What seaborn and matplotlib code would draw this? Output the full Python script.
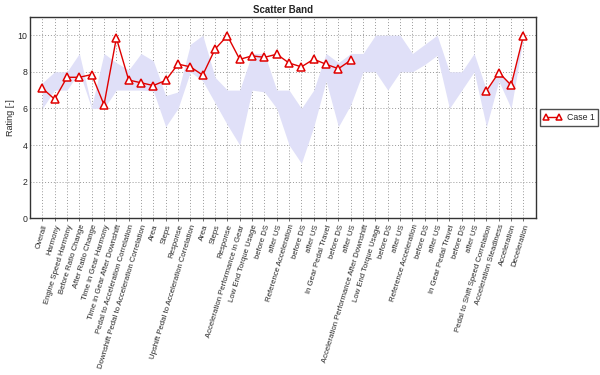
import matplotlib
matplotlib.use('Agg')

import numpy as np
import pandas as pd
import matplotlib.pyplot as plt
from matplotlib.lines import Line2D
import seaborn as sns

# ==============================================================================
# 資料
# ==============================================================================
categories = [
    'Overall', 'Harmony', 'Engine Speed Harmony', 'Before Ratio Change',
    'After Ratio Change', 'Time in Gear Harmony', 'Time in Gear After Downshift',
    'Pedal to Acceleration Correlation', 'Downshift Pedal to Acceleration Correlation',
    'Area', 'Steps', 'Response', 'Upshift Pedal to Acceleration Correlation',
    'Area', 'Steps', 'Response', 'Acceleration Performance in Gear',
    'Low End Torque Usage', 'before DS', 'after US', 'Reference Acceleration',
    'before DS', 'after US', 'In Gear Pedal Travel', 'before DS', 'after US',
    'Acceleration Performance After Downshift', 'Low End Torque Usage',
    'before DS', 'after US', 'Reference Acceleration', 'before DS', 'after US',
    'In Gear Pedal Travel', 'before DS', 'after US',
    'Pedal to Shift Speed Correlation', 'Acceleration Steadiness',
    'Acceleration', 'Deceleration',
]

case1 = [
    7.1, 6.5, 7.7, 7.7, 7.85, 6.2, 9.85, 7.55, 7.4, 7.25,
    7.53, 8.42, 8.27, 7.82, 9.24, 9.97, 8.68, 8.87, 8.79, 8.96,
    8.48, 8.27, 8.69, 8.41, 8.17, 8.63,
    np.nan, np.nan, np.nan, np.nan, np.nan, np.nan, np.nan, np.nan, np.nan, np.nan,
    6.96, 7.96, 7.27, 9.98,
]

band_upper = [
    7.4, 8.0, 8.0, 9.0, 6.1, 9.0, 8.5, 8.1, 9.0, 8.6,
    6.7, 6.9, 9.5, 10.0, 7.7, 7.0, 7.0, 9.0, 9.0, 7.0,
    7.0, 6.0, 7.0, 9.0, 8.5, 9.0, 9.0, 10.0, 10.0, 10.0,
    9.0, 9.5, 10.0, 8.0, 8.0, 9.0, 7.0, 8.0, 7.3, 10.0,
]

band_lower = [
    6.0, 7.0, 7.0, 8.0, 6.0, 6.0, 7.0, 7.0, 7.0, 6.95,
    5.0, 6.0, 8.0, 7.5, 6.3, 5.1, 4.0, 7.0, 6.9, 6.0,
    4.0, 3.0, 5.0, 7.5, 5.0, 6.2, 8.0, 8.0, 7.0, 8.0,
    8.0, 8.4, 8.9, 6.0, 7.0, 8.0, 5.0, 7.5, 6.0, 9.9,
]

# ==============================================================================
# 整理資料
# ==============================================================================
pos = np.arange(len(categories))
df = pd.DataFrame({'pos': pos, 'rating': case1})
# 以缺值切段，讓線條在缺值處斷開
df['seg'] = df['rating'].isna().cumsum()
df = df.dropna(subset=['rating'])

sns.set_theme(style='white')
plt.rcParams['font.family'] = ['Liberation Sans', 'DejaVu Sans']

fig = plt.figure(figsize=(6, 3.75), dpi=100)
ax = fig.add_axes([0.05, 0.418, 0.843, 0.537])

ax.fill_between(pos, band_lower, band_upper, color='#e0e0f8', linewidth=0, zorder=1)

red = '#e00000'
sns.lineplot(data=df, x='pos', y='rating', units='seg', estimator=None,
             color=red, linewidth=1.0, marker='^', markersize=6,
             markerfacecolor='white', markeredgecolor=red, markeredgewidth=1.1,
             ax=ax, zorder=3, legend=False)

ax.set_xlim(-1, len(categories))
ax.set_ylim(0, 11)
ax.set_yticks([0, 2, 4, 6, 8, 10])
ax.set_xticks(pos)
ax.set_xticklabels(categories, rotation=73, ha='right', rotation_mode='anchor', fontsize=5.6)
ax.tick_params(axis='y', labelsize=6.3, length=0, pad=2)
ax.tick_params(axis='x', length=2, width=0.6, color='#555555', pad=2, direction='out', bottom=True)

ax.grid(True, color='#999999', linestyle=(0, (1, 2)), linewidth=0.7)
ax.set_axisbelow(True)
for s in ax.spines.values():
    s.set_color('#333333')
    s.set_linewidth(1.0)

ax.set_xlabel('')
ax.set_ylabel('Rating [-]', fontsize=6.5, labelpad=2)
ax.set_title('Scatter Band', fontsize=7, fontweight='bold', pad=3)

handle = Line2D([], [], color=red, linewidth=1.0, marker='^', markersize=5,
                markerfacecolor='white', markeredgecolor=red, markeredgewidth=1.1)
leg = ax.legend([handle], ['Case 1'], loc='center left', bbox_to_anchor=(1.008, 0.5),
                numpoints=2, fontsize=6.3, fancybox=False, frameon=True,
                borderaxespad=0, handlelength=2.0, handletextpad=0.6,
                borderpad=0.45)
leg.get_frame().set_edgecolor('#222222')
leg.get_frame().set_linewidth(1.0)

fig.savefig('out.png', dpi=100)
plt.close(fig)
